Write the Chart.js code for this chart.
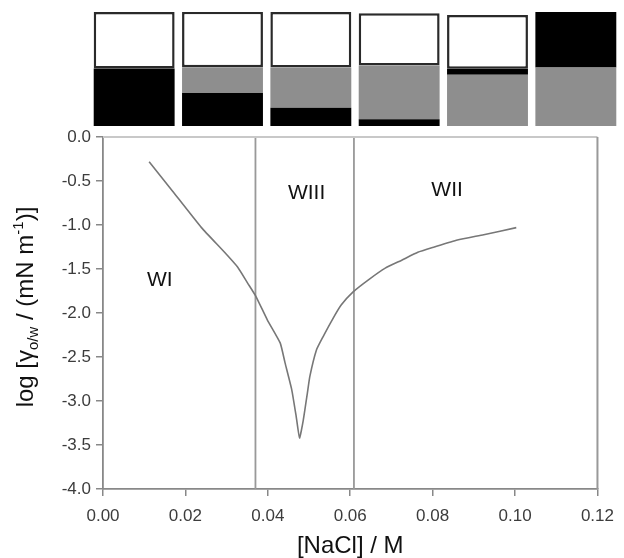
<!DOCTYPE html>
<html>
<head>
<meta charset="utf-8">
<script src="https://cdn.jsdelivr.net/npm/chart.js@4.4.1/dist/chart.umd.min.js"></script>
<style>
	html, body { margin: 0; padding: 0; background: #fff; }
	#wrap { position: relative; width: 624px; height: 558px; }
	#main { position: absolute; left: 0; top: 0; width: 624px; height: 558px; }
	#vials { position: absolute; left: 90px; top: 12px; width: 530px; height: 114px; }
</style>
</head>
<body>
<div id="wrap">
	<div id="main"><canvas id="tensionChart"></canvas></div>
	<div id="vials"><canvas id="vialChart"></canvas></div>
</div>
<script>
// interfacial tension curve
const nacl = [0.0112, 0.0168, 0.0239, 0.0295, 0.0327, 0.0351, 0.0371, 0.0399, 0.0430, 0.0442,
	0.0458, 0.0469, 0.0477, 0.0486, 0.0496, 0.0502, 0.0518, 0.0534, 0.0556, 0.0578,
	0.0607, 0.0645, 0.0685, 0.0725, 0.0764, 0.0804, 0.0860, 0.0924, 0.1003];
const logGamma = [-0.28, -0.61, -1.03, -1.31, -1.48, -1.66, -1.81, -2.08, -2.34, -2.57,
	-2.87, -3.18, -3.42, -3.22, -2.91, -2.72, -2.42, -2.27, -2.08, -1.91,
	-1.76, -1.62, -1.49, -1.40, -1.31, -1.25, -1.17, -1.11, -1.03];

// Winsor region boundaries and labels
const boundaries = [0.037, 0.0609];
const regionNames = ['WI', 'WIII', 'WII'];
const regionX = [0.0138, 0.0494, 0.0835];
const regionY = [-1.625, -0.636, -0.60];

// phase fractions of the six tubes, bottom to top
const tubes = ['1', '2', '3', '4', '5', '6'];
const blackBottom = [0.504, 0.29, 0.16, 0.06, 0, 0];
const greyPhase = [0, 0.225, 0.354, 0.47, 0.45, 0.513];
const blackMiddle = [0, 0, 0, 0, 0.053, 0];
const whitePhase = [0.496, 0.487, 0.487, 0.46, 0.47, 0];
const blackTop = [0, 0, 0, 0, 0, 0.487];

const family = '"Liberation Sans", Arial, sans-serif';

new Chart( document.getElementById( 'vialChart' ), {
	type: 'bar',
	data: {
		labels: tubes,
		datasets: [
			{ data: blackBottom, backgroundColor: '#000', borderWidth: 0 },
			{ data: greyPhase, backgroundColor: '#8e8e8e', borderWidth: 0 },
			{ data: blackMiddle, backgroundColor: '#000', borderWidth: 0 },
			{ data: whitePhase, backgroundColor: '#fff', borderColor: '#2a2a2a', borderSkipped: false,
				borderWidth: c => c.raw > 0 ? 2.5 : 0 },
			{ data: blackTop, backgroundColor: '#000', borderWidth: 0 }
		]
	},
	options: {
		animation: false,
		responsive: true,
		maintainAspectRatio: false,
		barPercentage: 0.916,
		categoryPercentage: 1,
		layout: { padding: 0 },
		plugins: { legend: { display: false }, tooltip: { enabled: false } },
		scales: {
			x: { display: false, stacked: true },
			y: { display: false, stacked: true, min: 0, max: 1 }
		}
	}
});

// frame, region names and the y title with sub/superscripts
const frameAndLabels = {
	id: 'frameAndLabels',
	afterDatasetsDraw( chart ){
		const { ctx, chartArea: a, scales: { x, y } } = chart;
		ctx.save();
		ctx.lineWidth = 2;
		ctx.strokeStyle = '#c8c8c8';
		ctx.beginPath(); ctx.moveTo( a.left, a.top ); ctx.lineTo( a.right, a.top ); ctx.stroke();
		ctx.strokeStyle = '#999';
		ctx.beginPath(); ctx.moveTo( a.right, a.top ); ctx.lineTo( a.right, a.bottom ); ctx.stroke();

		ctx.font = '21px ' + family;
		ctx.fillStyle = '#111';
		ctx.textAlign = 'center';
		ctx.textBaseline = 'middle';
		regionNames.forEach( ( t, i ) => ctx.fillText( t, x.getPixelForValue( regionX[i] ), y.getPixelForValue( regionY[i] ) ) );

		const parts = [
			{ t: 'log [γ', s: 24, dy: 0 },
			{ t: 'o/w', s: 15, dy: 5 },
			{ t: ' / (mN m', s: 24, dy: 0 },
			{ t: '-1', s: 15, dy: -10 },
			{ t: ')]', s: 24, dy: 0 }
		];
		let total = 0;
		parts.forEach( p => { ctx.font = p.s + 'px ' + family; p.w = ctx.measureText( p.t ).width; total += p.w; } );
		ctx.translate( 24, 307 );
		ctx.rotate( -Math.PI / 2 );
		ctx.textAlign = 'left';
		ctx.textBaseline = 'alphabetic';
		ctx.fillStyle = '#111';
		let px = -total / 2;
		parts.forEach( p => {
			ctx.font = p.s + 'px ' + family;
			ctx.fillText( p.t, px, 8.5 + p.dy );
			px += p.w;
		});
		ctx.restore();
	}
};

const axisGrid = { drawOnChartArea: false, tickLength: 7, color: '#888', lineWidth: 1.5 };
const axisBorder = { color: '#888', width: 1.8 };
const tickFont = { size: 17, family: family };

new Chart( document.getElementById( 'tensionChart' ), {
	type: 'scatter',
	data: {
		datasets: [
			{
				data: nacl.map( ( v, i ) => ( { x: v, y: logGamma[i] } ) ),
				showLine: true, borderColor: '#777', borderWidth: 1.6, pointRadius: 0, tension: 0.15
			},
			...boundaries.map( b => ( {
				data: [ { x: b, y: -4 }, { x: b, y: 0 } ],
				showLine: true, borderColor: '#999', borderWidth: 1.8, pointRadius: 0
			} ) )
		]
	},
	options: {
		animation: false,
		responsive: true,
		maintainAspectRatio: false,
		layout: { padding: { top: 137, right: 18, left: 0, bottom: 0 } },
		plugins: { legend: { display: false }, tooltip: { enabled: false } },
		scales: {
			x: {
				type: 'linear', min: 0, max: 0.12,
				ticks: { stepSize: 0.02, callback: v => v.toFixed( 2 ), font: tickFont, color: '#3c3c3c', padding: 10, maxRotation: 0 },
				grid: axisGrid,
				border: axisBorder,
				title: { display: true, text: '[NaCl] / M', font: { size: 24, family: family, lineHeight: 1 }, color: '#111', padding: 0 },
				afterFit: s => { s.height = 69; }
			},
			y: {
				min: -4, max: 0,
				ticks: { stepSize: 0.5, callback: v => v.toFixed( 1 ), font: tickFont, color: '#3c3c3c', padding: 5 },
				grid: axisGrid,
				border: axisBorder,
				afterFit: s => { s.width = 103; }
			}
		}
	},
	plugins: [ frameAndLabels ]
});
</script>
</body>
</html>
